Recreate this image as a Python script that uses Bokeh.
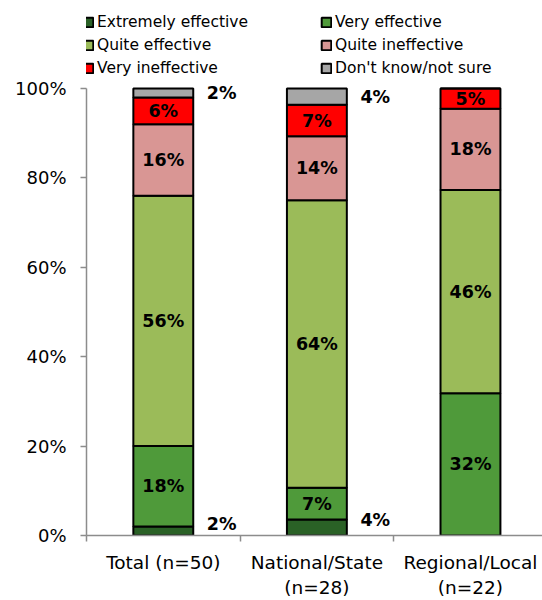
import numpy as np
from bokeh.plotting import figure
from bokeh.models import (ColumnDataSource, Range1d, FixedTicker, Legend, LegendItem)
from bokeh.core.properties import value
from bokeh.embed import file_html
from bokeh.resources import INLINE

# Survey groups (x positions 0, 1, 2)
groups = ["Total (n=50)", "National/State\n(n=28)", "Regional/Local\n(n=22)"]

# Share of respondents (%) per answer, one value per group
extremely_effective = [2.0, 3.6, 0.0]
very_effective = [18.0, 7.1, 31.8]
quite_effective = [56.0, 64.3, 45.5]
quite_ineffective = [16.0, 14.3, 18.2]
very_ineffective = [6.0, 7.1, 4.5]
dont_know = [2.0, 3.6, 0.0]

series_names = ["Extremely effective", "Very effective", "Quite effective",
                "Quite ineffective", "Very ineffective", "Don't know/not sure"]
series_values = [extremely_effective, very_effective, quite_effective,
                 quite_ineffective, very_ineffective, dont_know]
series_colors = ["#2a6126", "#4f9a3a", "#9bbb59", "#d99694", "#ff0000", "#a6a6a6"]

y_ticks = [0, 20, 40, 60, 80, 100]

FONT = "DejaVu Sans"
x_pos = np.arange(len(groups), dtype=float)
bar_w = 0.39

p = figure(width=542, height=600, output_backend="svg", toolbar_location=None,
           x_range=Range1d(-0.5, 2.469), y_range=Range1d(0, 119.7),
           min_border_left=86, min_border_right=0, min_border_top=0,
           min_border_bottom=65)
p.outline_line_color = None
p.xgrid.visible = False
p.ygrid.visible = False

bottoms = np.zeros(len(groups))
renderers = {}
lab_x, lab_y, lab_t, lab_off = [], [], [], []
for name, vals, col in zip(series_names, series_values, series_colors):
    vals = np.asarray(vals, dtype=float)
    tops = bottoms + vals
    src = ColumnDataSource(dict(x=x_pos, bottom=bottoms.copy(), top=tops))
    r = p.vbar(x="x", bottom="bottom", top="top", width=bar_w, source=src,
               fill_color=col, line_color="black", line_width=2)
    renderers[name] = r
    for i, v in enumerate(vals):
        if v <= 0:
            continue
        shown = int(np.floor(v + 0.5))
        mid = (bottoms[i] + tops[i]) / 2
        if shown < 5:
            # small segments are labelled beside the bar
            lab_x.append(x_pos[i] + 0.38)
            lab_off.append(-7 if mid < 50 else 0)
        else:
            lab_x.append(x_pos[i])
            lab_off.append(0)
        lab_y.append(mid)
        lab_t.append(f"{shown}%")
    bottoms = tops

lab_src = ColumnDataSource(dict(x=lab_x, y=lab_y, t=lab_t, off=lab_off))
p.text(x="x", y="y", text="t", y_offset="off", source=lab_src,
       text_font=value(FONT), text_font_style="bold", text_font_size="17.5px",
       text_align="center", text_baseline="middle", text_color="black")

# Axes
axis_color = "#8c8c8c"
p.yaxis.bounds = (0, 100)
p.yaxis.ticker = FixedTicker(ticks=y_ticks)
p.yaxis.major_label_overrides = {t: f"{t}%" for t in y_ticks}
p.yaxis.axis_line_color = axis_color
p.yaxis.axis_line_width = 1.5
p.yaxis.major_tick_line_color = axis_color
p.yaxis.major_tick_line_width = 1.5
p.yaxis.major_tick_out = 6
p.yaxis.major_tick_in = 0
p.yaxis.minor_tick_line_color = None
p.yaxis.major_label_text_font = FONT
p.yaxis.major_label_text_font_size = "18px"
p.yaxis.major_label_text_color = "black"
p.yaxis.major_label_standoff = 14

p.xaxis.ticker = FixedTicker(ticks=list(x_pos), minor_ticks=[-0.5, 0.5, 1.5, 2.5])
p.xaxis.major_label_overrides = {float(i): g for i, g in enumerate(groups)}
p.xaxis.axis_line_color = axis_color
p.xaxis.axis_line_width = 1.5
p.xaxis.major_tick_line_color = None
p.xaxis.major_tick_out = 0
p.xaxis.major_tick_in = 0
p.xaxis.minor_tick_line_color = axis_color
p.xaxis.minor_tick_line_width = 1.5
p.xaxis.minor_tick_out = 6
p.xaxis.minor_tick_in = 0
p.xaxis.major_label_text_font = FONT
p.xaxis.major_label_text_font_size = "18.5px"
p.xaxis.major_label_text_color = "black"
p.xaxis.major_label_standoff = 10

# Two-column legend, filled column by column: rows read left to right
legend_order = ["Extremely effective", "Quite effective", "Very ineffective",
                "Very effective", "Quite ineffective", "Don't know/not sure"]
legend = Legend(items=[LegendItem(label=n, renderers=[renderers[n]]) for n in legend_order],
                location=(-4, 457), ncols=2, orientation="vertical",
                glyph_width=12, glyph_height=12, label_standoff=3,
                label_width=220, label_height=20, spacing=3,
                padding=0, margin=0, border_line_color=None,
                background_fill_alpha=0,
                label_text_font=FONT, label_text_font_size="15.5px",
                label_text_color="black")
p.add_layout(legend)

open("out.html", "w").write(file_html(p, INLINE))
